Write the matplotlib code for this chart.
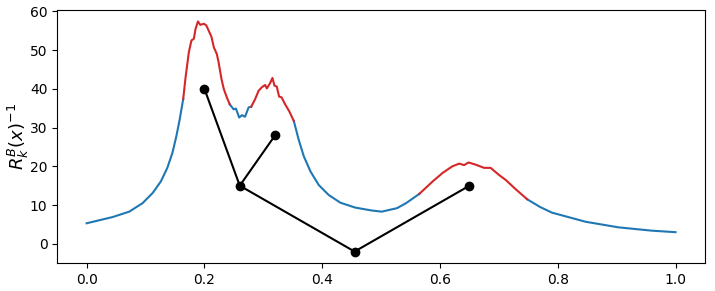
import numpy as np
import matplotlib
matplotlib.use("Agg")
import matplotlib.pyplot as plt

# curve values
x_vals = [0.0, 0.044, 0.0723, 0.095, 0.112, 0.126, 0.137, 0.1457, 0.1524, 0.158,
          0.164, 0.168, 0.1736, 0.178, 0.182, 0.185, 0.189, 0.193, 0.199, 0.203,
          0.207, 0.212, 0.216, 0.221, 0.224, 0.229, 0.233, 0.238, 0.243, 0.2496,
          0.2535, 0.259, 0.2637, 0.269, 0.275, 0.2795, 0.286, 0.292, 0.2975, 0.303,
          0.306, 0.3116, 0.3155, 0.319, 0.3228, 0.3268, 0.331, 0.337, 0.3437, 0.3518,
          0.360, 0.3687, 0.380, 0.394, 0.411, 0.431, 0.456, 0.484, 0.501, 0.527,
          0.5425, 0.565, 0.5876, 0.6045, 0.621, 0.6328, 0.641, 0.6485, 0.661, 0.675,
          0.686, 0.700, 0.7115, 0.7285, 0.748, 0.77, 0.79, 0.847, 0.903, 0.959,
          1.0]
y_vals = [5.3, 6.9, 8.3, 10.5, 13.1, 16.1, 19.6, 23.5, 27.8, 32.1,
          37.4, 43.0, 49.5, 52.5, 52.9, 55.5, 57.4, 56.5, 56.8, 56.4,
          55.1, 53.4, 50.7, 49.0, 46.9, 42.5, 39.9, 37.8, 36.0, 34.7,
          34.9, 32.6, 33.2, 32.8, 35.2, 35.4, 37.3, 39.5, 40.4, 41.0,
          40.1, 41.5, 42.8, 40.8, 40.6, 38.0, 37.8, 36.0, 34.3, 31.7,
          26.9, 22.6, 18.7, 15.2, 12.6, 10.6, 9.35, 8.6, 8.3, 9.2,
          10.5, 12.9, 16.1, 18.3, 20.0, 20.7, 20.3, 21.0, 20.4, 19.6,
          19.6, 17.8, 16.5, 14.1, 11.5, 9.5, 8.05, 5.7, 4.25, 3.4,
          3.0]

# x ranges drawn in red
red_spans = [(0.164, 0.243), (0.2795, 0.3518), (0.565, 0.748)]

# tree nodes and edges
node_x = [0.2, 0.26, 0.32, 0.455, 0.65]
node_y = [40, 15, 28, -2, 15]
edges = [(0, 1), (1, 2), (1, 3), (3, 4)]

x = np.array(x_vals)
y = np.array(y_vals)

fig, ax = plt.subplots(figsize=(7.15, 2.91), dpi=100)
fig.subplots_adjust(left=0.08, right=0.986, top=0.966, bottom=0.096)

# blue outside the red spans, red inside
yb = y.copy()
for lo, hi in red_spans:
    inside = (x > lo + 1e-9) & (x < hi - 1e-9)
    yb[inside] = np.nan
ax.plot(x, yb, color="tab:blue", lw=1.5)
for lo, hi in red_spans:
    m = (x >= lo - 1e-9) & (x <= hi + 1e-9)
    ax.plot(x[m], y[m], color="tab:red", lw=1.5)

for a, b in edges:
    ax.plot([node_x[a], node_x[b]], [node_y[a], node_y[b]], color="black", lw=1.5)
ax.plot(node_x, node_y, "o", color="black", ms=6)

ax.set_ylabel(r"$R^B_k(x)^{-1}$", fontsize=13)
ax.yaxis.set_label_coords(-0.04, 0.5)
ax.set_yticks([0, 10, 20, 30, 40, 50, 60])

fig.savefig("out.png")
